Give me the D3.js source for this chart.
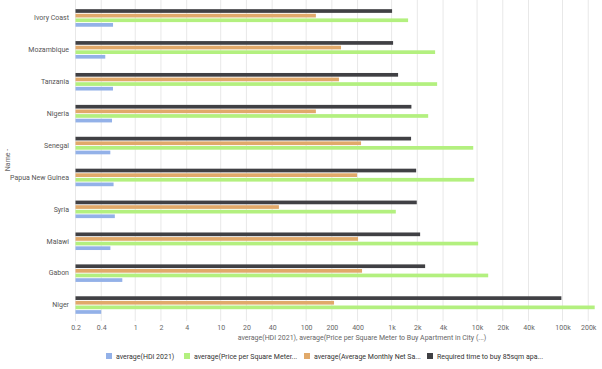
<!DOCTYPE html>
<html>
<head>
<meta charset="utf-8">
<script src="https://cdn.jsdelivr.net/npm/d3@7/dist/d3.min.js"></script>
<style>
  html, body { margin: 0; padding: 0; background: #fff; }
  svg { display: block; font-family: Roboto, "Liberation Sans", sans-serif; }
</style>
</head>
<body>
<svg id="chart" width="602" height="369"></svg>
<script>
const countries = ["Ivory Coast", "Mozambique", "Tanzania", "Nigeria", "Senegal",
  "Papua New Guinea", "Syria", "Malawi", "Gabon", "Niger"];
const hdi = [0.550, 0.446, 0.549, 0.535, 0.511, 0.558, 0.577, 0.512, 0.706, 0.400];
const pricePerSqm = [1560, 3230, 3410, 2680, 9020, 9270, 1120, 10300, 13500, 238000];
const monthlySalary = [130, 256, 242, 130, 439, 394, 48, 405, 451, 212];
const requiredTime = [1013, 1041, 1191, 1705, 1690, 1937, 1970, 2157, 2468, 97000];
const seriesNames = ["average(HDI 2021)", "average(Price per Square Meter...",
  "average(Average Monthly Net Sa...", "Required time to buy 85sqm apa..."];
const tickValues = [0.2, 0.4, 1, 2, 4, 10, 20, 40, 100, 200, 400, 1000, 2000, 4000,
  10000, 20000, 40000, 100000, 200000];
const tickLabels = ["0.2", "0.4", "1", "2", "4", "10", "20", "40", "100", "200", "400",
  "1k", "2k", "4k", "10k", "20k", "40k", "100k", "200k"];
const xTitle = "average(HDI 2021), average(Price per Square Meter to Buy Apartment in City (...)";
const yTitle = "Name -";

const colors = ["#93b1e8", "#b3f07f", "#e1a96a", "#404044"];
const seriesData = [hdi, pricePerSqm, monthlySalary, requiredTime];
// drawing order inside a group, top to bottom
const barOrder = [3, 2, 1, 0];

const svg = d3.select("#chart");
const x = d3.scaleLog().domain([0.2, 240000]).range([75.5, 595]);
const y = d3.scaleBand().domain(countries).range([2, 321]).paddingInner(0.45).paddingOuter(0.225);
const ySub = d3.scaleBand().domain(barOrder).range([0, y.bandwidth()]).paddingInner(0.2);

// gridlines
svg.append("g").selectAll("line").data(tickValues).join("line")
  .attr("x1", d => x(d)).attr("x2", d => x(d))
  .attr("y1", 0).attr("y2", 321)
  .attr("stroke", "#e8e8e8").attr("stroke-width", 1);

// x axis labels
const xAxis = d3.axisBottom(x).tickValues(tickValues)
  .tickFormat((d, i) => tickLabels[i]).tickSize(0).tickPadding(4);
const gx = svg.append("g").attr("transform", "translate(0,321)").call(xAxis);
gx.select(".domain").remove();
gx.selectAll("text").attr("fill", "#666").style("font-size", "7px")
  .style("font-family", "Roboto, sans-serif");

// y axis labels
const yAxis = d3.axisLeft(y).tickSize(0).tickPadding(7);
const gy = svg.append("g").attr("transform", "translate(76,0)").call(yAxis);
gy.select(".domain").remove();
gy.selectAll("text").attr("fill", "#555").style("font-size", "7px")
  .style("font-family", "Roboto, sans-serif");

// bars
const groups = svg.append("g").selectAll("g").data(countries).join("g")
  .attr("transform", d => `translate(0,${y(d)})`);
groups.selectAll("rect").data((c, ci) => barOrder.map(s => ({ s, v: seriesData[s][ci] })))
  .join("rect")
  .attr("x", x(0.2))
  .attr("y", d => ySub(d.s))
  .attr("width", d => x(d.v) - x(0.2))
  .attr("height", ySub.bandwidth())
  .attr("fill", d => colors[d.s]);

// axis titles
svg.append("text").attr("x", 362).attr("y", 340).attr("text-anchor", "middle")
  .attr("fill", "#666").style("font-size", "7px").text(xTitle);
svg.append("text").attr("transform", "translate(10,160) rotate(-90)")
  .attr("text-anchor", "middle").attr("fill", "#666").style("font-size", "7px").text(yTitle);

// legend
const legendX = [106, 184, 304, 427];
const lg = svg.append("g").selectAll("g").data(seriesNames).join("g")
  .attr("transform", (d, i) => `translate(${legendX[i]},353)`);
lg.append("rect").attr("width", 6).attr("height", 6).attr("fill", (d, i) => colors[i]);
lg.append("text").attr("x", 10).attr("y", 5.5).attr("fill", "#333")
  .style("font-size", "7px").text(d => d);
</script>
</body>
</html>
